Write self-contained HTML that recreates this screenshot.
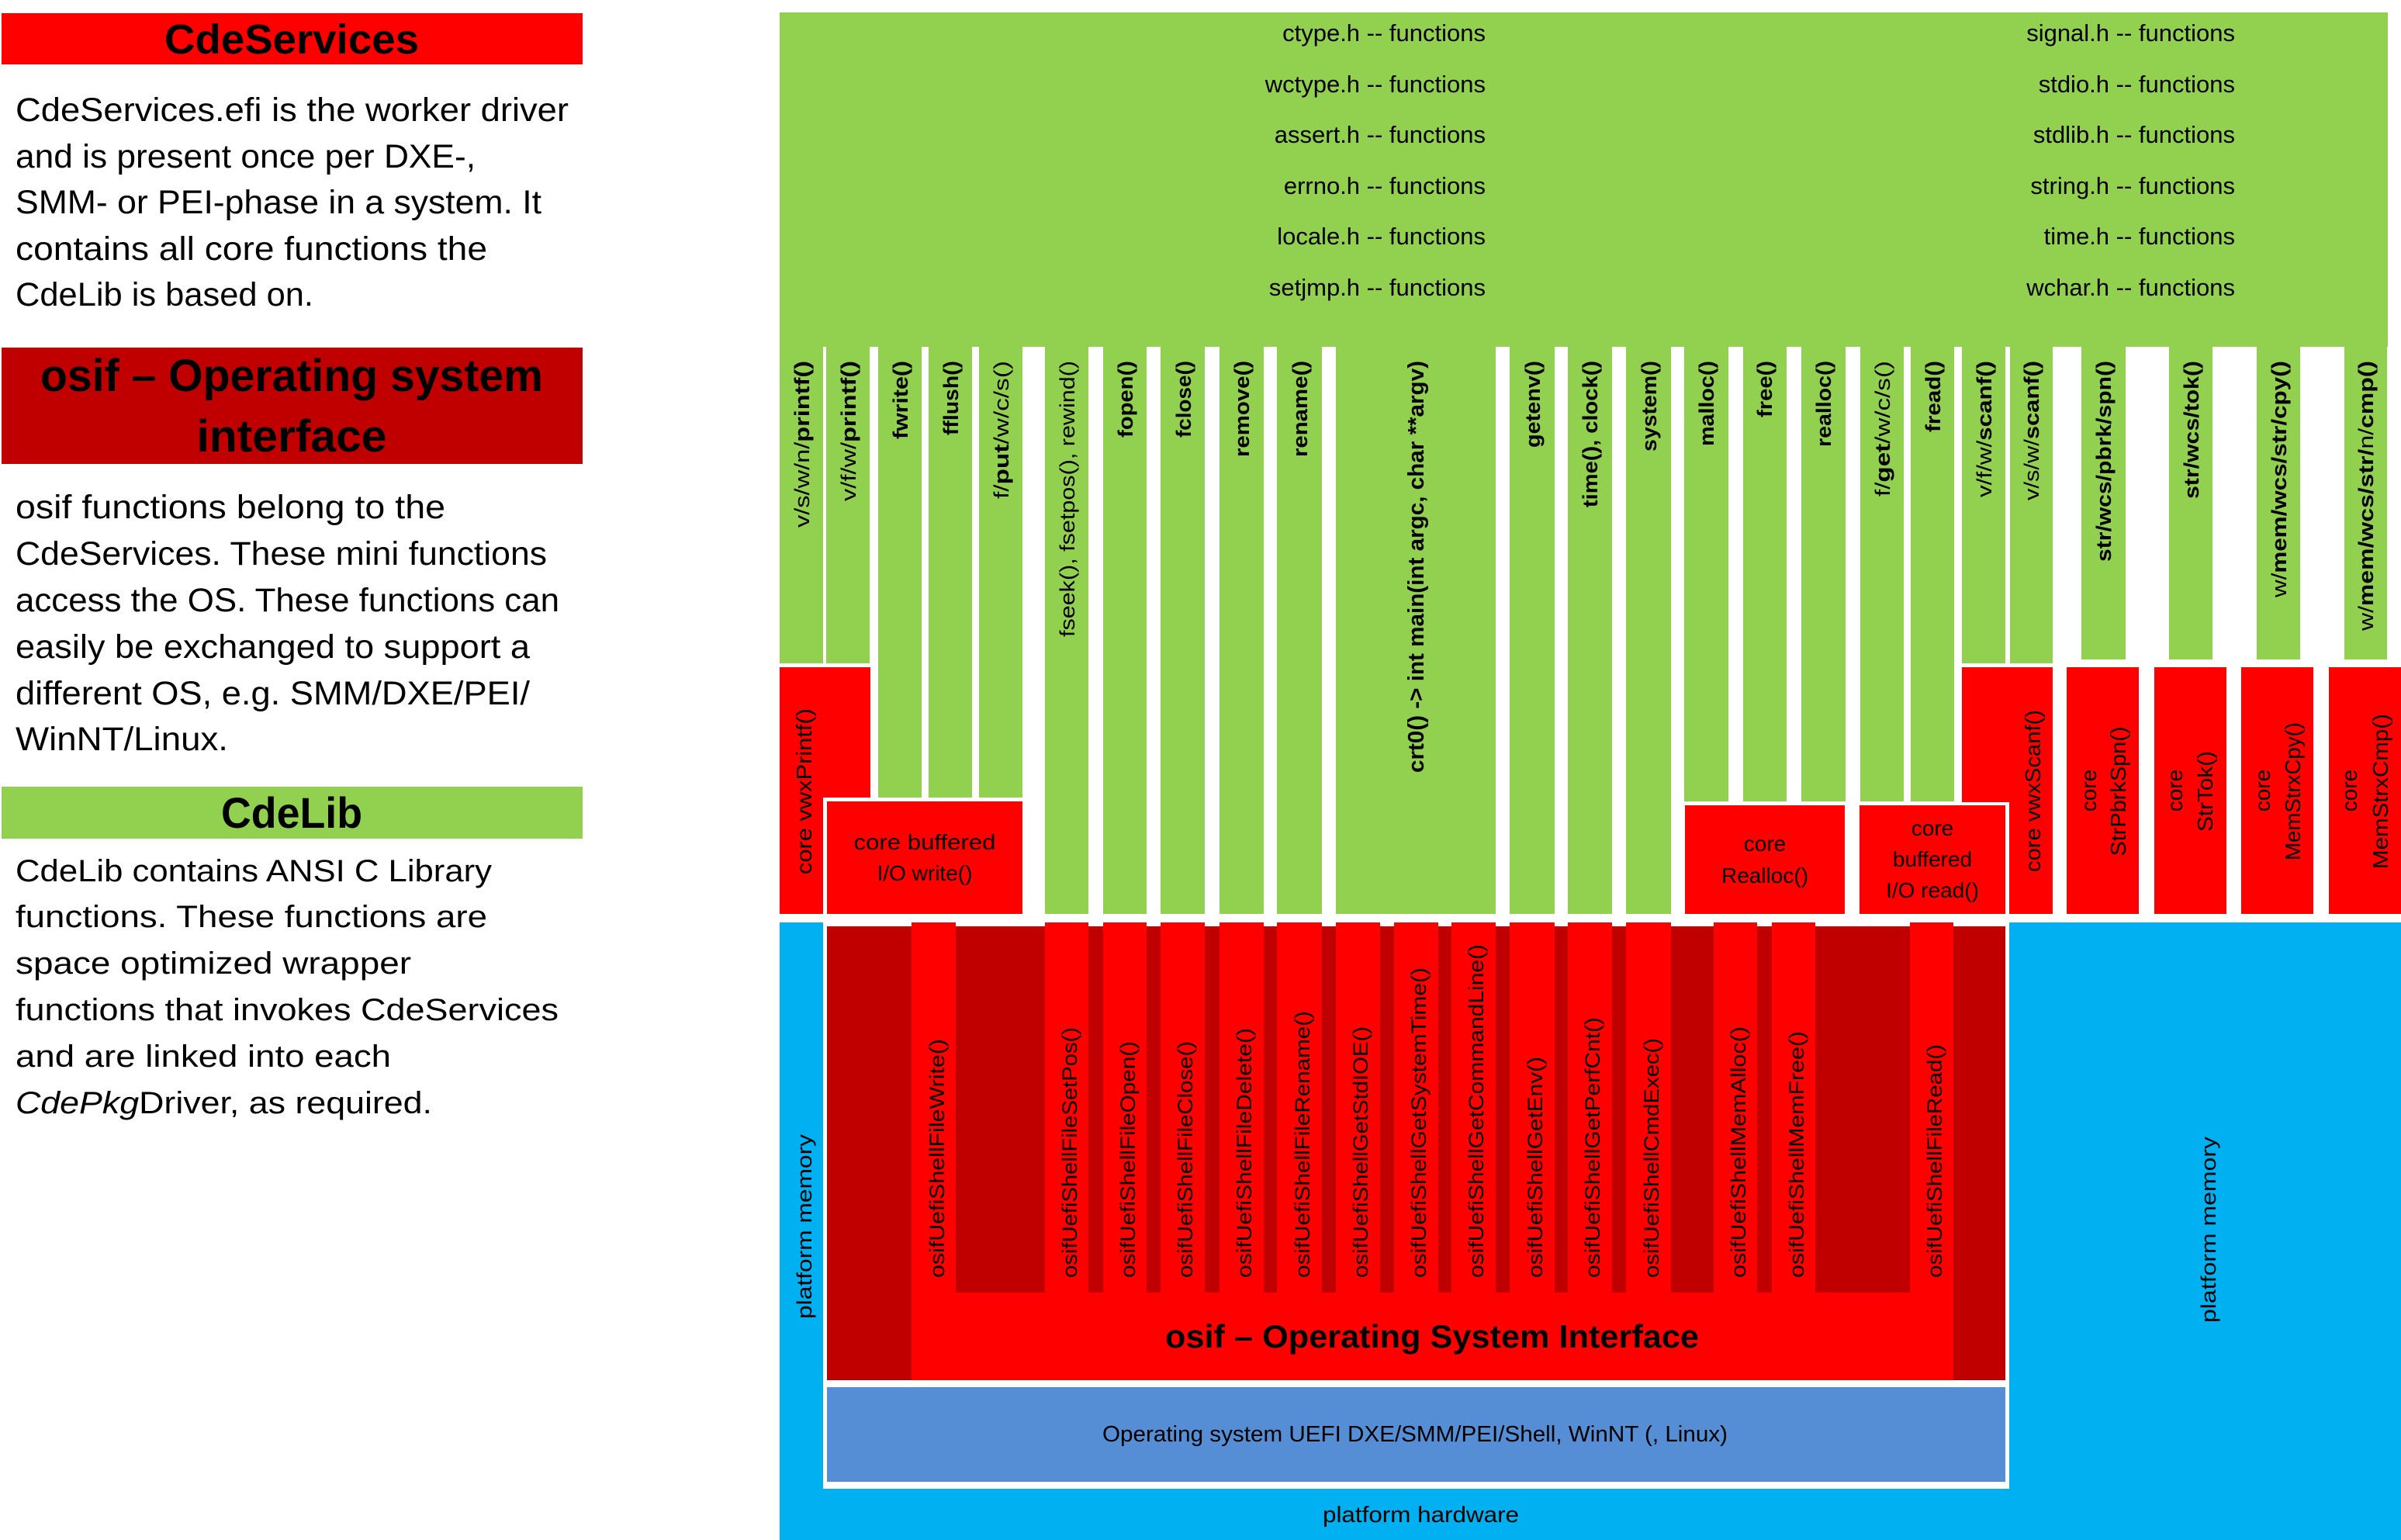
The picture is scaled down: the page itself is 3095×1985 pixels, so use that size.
<!DOCTYPE html>
<html><head><meta charset="utf-8"><style>
html,body{margin:0;padding:0;background:#fff;}
svg{display:block;}
text{font-family:"Liberation Sans",sans-serif;fill:#000;}
</style></head><body>
<svg width="3095" height="1985" viewBox="0 0 3095 1985" xmlns="http://www.w3.org/2000/svg">
<rect width="3095" height="1985" fill="#fff"/>

<!-- LEFT PANEL -->
<rect x="2" y="17" width="749" height="66" fill="#FF0000"/>
<text x="376" y="69" font-size="54" font-weight="bold" text-anchor="middle" textLength="328" lengthAdjust="spacingAndGlyphs">CdeServices</text>
<g font-size="43">
<text x="20" y="156" textLength="713" lengthAdjust="spacingAndGlyphs">CdeServices.efi is the worker driver</text>
<text x="20" y="216" textLength="593" lengthAdjust="spacingAndGlyphs">and is present once per DXE-,</text>
<text x="20" y="275" textLength="678" lengthAdjust="spacingAndGlyphs">SMM- or PEI-phase in a system. It</text>
<text x="20" y="335" textLength="608" lengthAdjust="spacingAndGlyphs">contains all core functions the</text>
<text x="20" y="394" textLength="384" lengthAdjust="spacingAndGlyphs">CdeLib is based on.</text>
</g>
<rect x="2" y="448" width="749" height="150" fill="#C00000"/>
<text x="376" y="504" font-size="58" font-weight="bold" text-anchor="middle" textLength="648" lengthAdjust="spacingAndGlyphs">osif – Operating system</text>
<text x="376" y="582" font-size="58" font-weight="bold" text-anchor="middle" textLength="245" lengthAdjust="spacingAndGlyphs">interface</text>
<g font-size="43">
<text x="20" y="668" textLength="554" lengthAdjust="spacingAndGlyphs">osif functions belong to the</text>
<text x="20" y="728" textLength="685" lengthAdjust="spacingAndGlyphs">CdeServices. These mini functions</text>
<text x="20" y="788" textLength="701" lengthAdjust="spacingAndGlyphs">access the OS. These functions can</text>
<text x="20" y="848" textLength="663" lengthAdjust="spacingAndGlyphs">easily be exchanged to support a</text>
<text x="20" y="908" textLength="663" lengthAdjust="spacingAndGlyphs">different OS, e.g. SMM/DXE/PEI/</text>
<text x="20" y="967" textLength="274" lengthAdjust="spacingAndGlyphs">WinNT/Linux.</text>
</g>
<rect x="2" y="1014" width="749" height="67" fill="#92D050"/>
<text x="376" y="1067" font-size="56" font-weight="bold" text-anchor="middle" textLength="182" lengthAdjust="spacingAndGlyphs">CdeLib</text>
<g font-size="40">
<text x="20" y="1136" textLength="614" lengthAdjust="spacingAndGlyphs">CdeLib contains ANSI C Library</text>
<text x="20" y="1195" textLength="608" lengthAdjust="spacingAndGlyphs">functions. These functions are</text>
<text x="20" y="1255" textLength="510" lengthAdjust="spacingAndGlyphs">space optimized wrapper</text>
<text x="20" y="1315" textLength="700" lengthAdjust="spacingAndGlyphs">functions that invokes CdeServices</text>
<text x="20" y="1375" textLength="484" lengthAdjust="spacingAndGlyphs">and are linked into each</text>
<text x="20" y="1435" textLength="537" lengthAdjust="spacingAndGlyphs"><tspan font-style="italic">CdePkg</tspan>Driver, as required.</text>
</g>

<!-- TOP GREEN BAND -->
<rect x="1005" y="16" width="2073" height="431" fill="#92D050"/>
<g font-size="31" text-anchor="end">
<text x="1915" y="53">ctype.h -- functions</text>
<text x="1915" y="119">wctype.h -- functions</text>
<text x="1915" y="184">assert.h -- functions</text>
<text x="1915" y="250">errno.h -- functions</text>
<text x="1915" y="315">locale.h -- functions</text>
<text x="1915" y="381">setjmp.h -- functions</text>
<text x="2881" y="53">signal.h -- functions</text>
<text x="2881" y="119">stdio.h -- functions</text>
<text x="2881" y="184">stdlib.h -- functions</text>
<text x="2881" y="250">string.h -- functions</text>
<text x="2881" y="315">time.h -- functions</text>
<text x="2881" y="381">wchar.h -- functions</text>
</g>

<!-- GREEN COLUMNS -->
<g fill="#92D050">
<rect x="1005" y="440" width="56" height="415"/>
<rect x="1065" y="440" width="56" height="415"/>
<rect x="1132" y="440" width="56" height="588"/>
<rect x="1197" y="440" width="56" height="588"/>
<rect x="1262" y="440" width="56" height="588"/>
<rect x="1347" y="440" width="56" height="738"/>
<rect x="1422" y="440" width="56" height="738"/>
<rect x="1496" y="440" width="57" height="738"/>
<rect x="1572" y="440" width="57" height="738"/>
<rect x="1646" y="440" width="58" height="738"/>
<rect x="1722" y="440" width="206" height="738"/>
<rect x="1946" y="440" width="58" height="738"/>
<rect x="2021" y="440" width="57" height="738"/>
<rect x="2096" y="440" width="58" height="738"/>
<rect x="2171" y="440" width="57" height="593"/>
<rect x="2247" y="440" width="56" height="593"/>
<rect x="2322" y="440" width="57" height="593"/>
<rect x="2398" y="440" width="56" height="593"/>
<rect x="2463" y="440" width="56" height="593"/>
<rect x="2529" y="440" width="56" height="415"/>
<rect x="2591" y="440" width="55" height="415"/>
<rect x="2683" y="440" width="57" height="410"/>
<rect x="2796" y="440" width="56" height="410"/>
<rect x="2909" y="440" width="56" height="410"/>
<rect x="3022" y="440" width="55" height="410"/>
</g>

<!-- RED BOXES (top) -->
<g fill="#FF0000">
<rect x="1005" y="860" width="117" height="168"/>
<rect x="1005" y="860" width="56" height="318"/>
<rect x="1066" y="1033" width="252" height="145"/>
<rect x="2172" y="1038" width="206" height="140"/>
<rect x="2397" y="1038" width="188" height="140"/>
<rect x="2529" y="860" width="117" height="174"/>
<rect x="2590" y="860" width="56" height="318"/>
<rect x="2664" y="860" width="93" height="318"/>
<rect x="2777" y="860" width="93" height="318"/>
<rect x="2889" y="860" width="93" height="318"/>
<rect x="3002" y="860" width="93" height="318"/>
</g>

<!-- Column labels (rotated) -->
<g font-size="27" font-weight="bold">
<text transform="translate(1043,680) rotate(-90)" textLength="215" lengthAdjust="spacingAndGlyphs"><tspan font-weight="normal">v/s/w/n/</tspan>printf()</text>
<text transform="translate(1103,646) rotate(-90)" textLength="181" lengthAdjust="spacingAndGlyphs"><tspan font-weight="normal">v/f/w/</tspan>printf()</text>
<text transform="translate(1170,566) rotate(-90)" textLength="101" lengthAdjust="spacingAndGlyphs">fwrite()</text>
<text transform="translate(1235,561) rotate(-90)" textLength="96" lengthAdjust="spacingAndGlyphs">fflush()</text>
<text transform="translate(1300,643) rotate(-90)" textLength="178" lengthAdjust="spacingAndGlyphs"><tspan font-weight="normal">f/</tspan>put<tspan font-weight="normal">/w/c/s()</tspan></text>
<text transform="translate(1385,821) rotate(-90)" font-weight="normal" textLength="356" lengthAdjust="spacingAndGlyphs">fseek(), fsetpos(), rewind()</text>
<text transform="translate(1460,564) rotate(-90)" textLength="99" lengthAdjust="spacingAndGlyphs">fopen()</text>
<text transform="translate(1535,564) rotate(-90)" textLength="99" lengthAdjust="spacingAndGlyphs">fclose()</text>
<text transform="translate(1610,589) rotate(-90)" textLength="124" lengthAdjust="spacingAndGlyphs">remove()</text>
<text transform="translate(1685,589) rotate(-90)" textLength="124" lengthAdjust="spacingAndGlyphs">rename()</text>
<text transform="translate(1835,996) rotate(-90)" font-size="29" textLength="531" lengthAdjust="spacingAndGlyphs">crt0() -&gt; int main(int argc, char **argv)</text>
<text transform="translate(1985,577) rotate(-90)" textLength="112" lengthAdjust="spacingAndGlyphs">getenv()</text>
<text transform="translate(2059,654) rotate(-90)" textLength="189" lengthAdjust="spacingAndGlyphs">time(), clock()</text>
<text transform="translate(2135,582) rotate(-90)" textLength="117" lengthAdjust="spacingAndGlyphs">system()</text>
<text transform="translate(2209,575) rotate(-90)" textLength="110" lengthAdjust="spacingAndGlyphs">malloc()</text>
<text transform="translate(2284,538) rotate(-90)" textLength="73" lengthAdjust="spacingAndGlyphs">free()</text>
<text transform="translate(2360,576) rotate(-90)" textLength="111" lengthAdjust="spacingAndGlyphs">realloc()</text>
<text transform="translate(2436,640) rotate(-90)" textLength="175" lengthAdjust="spacingAndGlyphs"><tspan font-weight="normal">f/</tspan>get<tspan font-weight="normal">/w/c/s()</tspan></text>
<text transform="translate(2501,557) rotate(-90)" textLength="92" lengthAdjust="spacingAndGlyphs">fread()</text>
<text transform="translate(2567,641) rotate(-90)" textLength="176" lengthAdjust="spacingAndGlyphs"><tspan font-weight="normal">v/f/w/</tspan>scanf()</text>
<text transform="translate(2628,645) rotate(-90)" textLength="180" lengthAdjust="spacingAndGlyphs"><tspan font-weight="normal">v/s/w/</tspan>scanf()</text>
<text transform="translate(2721,724) rotate(-90)" textLength="259" lengthAdjust="spacingAndGlyphs">str/wcs/pbrk/spn()</text>
<text transform="translate(2834,643) rotate(-90)" textLength="178" lengthAdjust="spacingAndGlyphs">str/wcs/tok()</text>
<text transform="translate(2947,770) rotate(-90)" textLength="305" lengthAdjust="spacingAndGlyphs"><tspan font-weight="normal">w/</tspan>mem/wcs/str/cpy()</text>
<text transform="translate(3059,813) rotate(-90)" textLength="348" lengthAdjust="spacingAndGlyphs"><tspan font-weight="normal">w/</tspan>mem/wcs/str/<tspan font-weight="normal">n/</tspan>cmp()</text>
</g>

<!-- red box labels -->
<g font-size="28">
<text transform="translate(1046,1127) rotate(-90)" textLength="214" lengthAdjust="spacingAndGlyphs">core vwxPrintf()</text>
<text x="1192" y="1095" text-anchor="middle" textLength="183" lengthAdjust="spacingAndGlyphs">core buffered</text>
<text x="1192" y="1135" text-anchor="middle">I/O write()</text>
<text x="2275" y="1097" text-anchor="middle">core</text>
<text x="2275" y="1138" text-anchor="middle">Realloc()</text>
<text x="2491" y="1077" text-anchor="middle">core</text>
<text x="2491" y="1117" text-anchor="middle">buffered</text>
<text x="2491" y="1157" text-anchor="middle">I/O read()</text>
<text transform="translate(2630,1124) rotate(-90)" textLength="209" lengthAdjust="spacingAndGlyphs">core vwxScanf()</text>
<text transform="translate(2702,1019) rotate(-90)" text-anchor="middle">core</text>
<text transform="translate(2740,1020) rotate(-90)" text-anchor="middle" textLength="167" lengthAdjust="spacingAndGlyphs">StrPbrkSpn()</text>
<text transform="translate(2813,1019) rotate(-90)" text-anchor="middle">core</text>
<text transform="translate(2852,1020) rotate(-90)" text-anchor="middle" textLength="104" lengthAdjust="spacingAndGlyphs">StrTok()</text>
<text transform="translate(2926,1019) rotate(-90)" text-anchor="middle">core</text>
<text transform="translate(2965,1020) rotate(-90)" text-anchor="middle" textLength="178" lengthAdjust="spacingAndGlyphs">MemStrxCpy()</text>
<text transform="translate(3038,1019) rotate(-90)" text-anchor="middle">core</text>
<text transform="translate(3078,1020) rotate(-90)" text-anchor="middle" textLength="200" lengthAdjust="spacingAndGlyphs">MemStrxCmp()</text>
</g>

<!-- BOTTOM SECTION -->
<rect x="1005" y="1189" width="2090" height="796" fill="#00B0F0"/>
<rect x="1061" y="1189" width="1529" height="730" fill="#fff"/>
<rect x="1066" y="1194" width="1519" height="585" fill="#C00000"/>
<rect x="1175" y="1666" width="1343" height="113" fill="#FF0000"/>
<g fill="#FF0000">
<rect x="1175" y="1189" width="57" height="480"/>
<rect x="1347" y="1189" width="56" height="480"/>
<rect x="1422" y="1189" width="56" height="480"/>
<rect x="1496" y="1189" width="57" height="480"/>
<rect x="1572" y="1189" width="57" height="480"/>
<rect x="1646" y="1189" width="58" height="480"/>
<rect x="1722" y="1189" width="57" height="480"/>
<rect x="1797" y="1189" width="57" height="480"/>
<rect x="1871" y="1189" width="57" height="480"/>
<rect x="1946" y="1189" width="58" height="480"/>
<rect x="2021" y="1189" width="57" height="480"/>
<rect x="2096" y="1189" width="58" height="480"/>
<rect x="2209" y="1189" width="56" height="480"/>
<rect x="2284" y="1189" width="56" height="480"/>
<rect x="2462" y="1189" width="56" height="480"/>
</g>
<g font-size="27">
<text transform="translate(1217,1647) rotate(-90)" textLength="308" lengthAdjust="spacingAndGlyphs">osifUefiShellFileWrite()</text>
<text transform="translate(1388,1647) rotate(-90)" textLength="323" lengthAdjust="spacingAndGlyphs">osifUefiShellFileSetPos()</text>
<text transform="translate(1463,1647) rotate(-90)" textLength="305" lengthAdjust="spacingAndGlyphs">osifUefiShellFileOpen()</text>
<text transform="translate(1537,1647) rotate(-90)" textLength="305" lengthAdjust="spacingAndGlyphs">osifUefiShellFileClose()</text>
<text transform="translate(1613,1647) rotate(-90)" textLength="322" lengthAdjust="spacingAndGlyphs">osifUefiShellFileDelete()</text>
<text transform="translate(1688,1647) rotate(-90)" textLength="344" lengthAdjust="spacingAndGlyphs">osifUefiShellFileRename()</text>
<text transform="translate(1763,1647) rotate(-90)" textLength="324" lengthAdjust="spacingAndGlyphs">osifUefiShellGetStdIOE()</text>
<text transform="translate(1838,1647) rotate(-90)" textLength="400" lengthAdjust="spacingAndGlyphs">osifUefiShellGetSystemTime()</text>
<text transform="translate(1912,1647) rotate(-90)" textLength="430" lengthAdjust="spacingAndGlyphs">osifUefiShellGetCommandLine()</text>
<text transform="translate(1988,1647) rotate(-90)" textLength="285" lengthAdjust="spacingAndGlyphs">osifUefiShellGetEnv()</text>
<text transform="translate(2062,1647) rotate(-90)" textLength="336" lengthAdjust="spacingAndGlyphs">osifUefiShellGetPerfCnt()</text>
<text transform="translate(2138,1647) rotate(-90)" textLength="309" lengthAdjust="spacingAndGlyphs">osifUefiShellCmdExec()</text>
<text transform="translate(2250,1647) rotate(-90)" textLength="324" lengthAdjust="spacingAndGlyphs">osifUefiShellMemAlloc()</text>
<text transform="translate(2325,1647) rotate(-90)" textLength="318" lengthAdjust="spacingAndGlyphs">osifUefiShellMemFree()</text>
<text transform="translate(2503,1647) rotate(-90)" textLength="301" lengthAdjust="spacingAndGlyphs">osifUefiShellFileRead()</text>
</g>
<text x="1502" y="1737" font-size="42" font-weight="bold" textLength="688" lengthAdjust="spacingAndGlyphs">osif – Operating System Interface</text>
<rect x="1066" y="1788" width="1519" height="122" fill="#558ED5"/>
<text x="1421" y="1858" font-size="29" textLength="806" lengthAdjust="spacingAndGlyphs">Operating system UEFI DXE/SMM/PEI/Shell, WinNT (, Linux)</text>
<text x="1705" y="1962" font-size="29" textLength="253" lengthAdjust="spacingAndGlyphs">platform hardware</text>
<text transform="translate(1046,1700) rotate(-90)" font-size="27" textLength="238" lengthAdjust="spacingAndGlyphs">platform memory</text>
<text transform="translate(2856,1705) rotate(-90)" font-size="27" textLength="240" lengthAdjust="spacingAndGlyphs">platform memory</text>
</svg>
</body></html>
